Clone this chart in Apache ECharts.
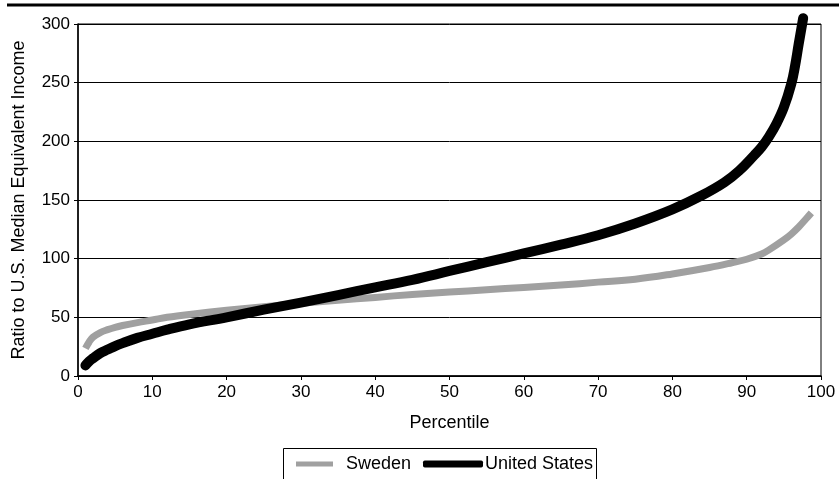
<!DOCTYPE html>
<html>
<head>
<meta charset="utf-8">
<script src="https://cdn.jsdelivr.net/npm/echarts@6/dist/echarts.min.js"></script>
<style>
html,body{margin:0;padding:0;background:#fff;}
#chart{width:839px;height:479px;}
</style>
</head>
<body>
<div id="chart"></div>
<script>
const usPct = [1, 1.5, 2, 3, 4, 5, 6, 8, 10, 12, 15, 20, 25, 30, 35, 40, 45, 50, 55, 60, 65, 70, 75, 80, 84, 87, 89, 91, 92, 93, 94, 95, 96, 96.5, 97, 97.6];
const usVal = [9, 12.5, 15, 19.5, 22.5, 25.5, 28, 32.5, 36, 39.5, 44, 50, 56.5, 62.5, 69, 75.5, 82, 89.5, 97, 104.5, 112, 120, 130, 142, 154, 165, 175, 188, 195, 204, 215, 229, 249, 264, 283, 305];
const swPct = [1, 1.5, 2, 3, 4, 5, 6, 8, 10, 12, 15, 20, 25, 30, 35, 40, 45, 50, 55, 60, 65, 70, 75, 80, 85, 88, 90, 92, 93, 95, 96, 97, 98, 98.7];
const swVal = [23.5, 29, 33, 37, 39.5, 41.5, 43, 45.5, 47.7, 50, 52.5, 56, 59, 62, 64.5, 67, 69.5, 71.5, 73.5, 75.5, 77.5, 80, 82.5, 87, 92.5, 96.5, 99.5, 104, 107.5, 116, 121, 127, 134, 139];
const xTicks = [0, 10, 20, 30, 40, 50, 60, 70, 80, 90, 100];
const yTicks = [0, 50, 100, 150, 200, 250, 300];
const seriesNames = ['Sweden', 'United States'];

const FONT = 'Liberation Sans, Arial, sans-serif';
const chart = echarts.init(document.getElementById('chart'), null, {renderer: 'canvas'});
const zip = (a, b) => a.map((v, i) => [v, b[i]]);

chart.setOption({
  animation: false,
  backgroundColor: '#fff',
  textStyle: {fontFamily: FONT, color: '#000'},
  grid: {left: 78, right: 18, top: 24, bottom: 103, show: true, borderColor: '#000', borderWidth: 1},
  xAxis: {
    type: 'value', min: xTicks[0], max: xTicks[xTicks.length - 1], interval: 10,
    name: 'Percentile', nameLocation: 'middle', nameGap: 38,
    nameTextStyle: {fontFamily: FONT, fontSize: 18, color: '#000'},
    axisLine: {show: true, lineStyle: {color: '#000', width: 1.5}},
    axisTick: {show: true, length: 4, lineStyle: {color: '#000'}},
    axisLabel: {fontFamily: FONT, fontSize: 17, color: '#000', margin: 8},
    splitLine: {show: false}
  },
  yAxis: {
    type: 'value', min: yTicks[0], max: yTicks[yTicks.length - 1], interval: 50,
    name: 'Ratio to U.S. Median Equivalent Income', nameLocation: 'middle', nameGap: 50,
    nameTextStyle: {fontFamily: FONT, fontSize: 18, color: '#000'},
    axisLine: {show: true, lineStyle: {color: '#000', width: 1.5}},
    axisTick: {show: true, length: 4, lineStyle: {color: '#000'}},
    axisLabel: {fontFamily: FONT, fontSize: 17, color: '#000', margin: 8},
    splitLine: {show: true, lineStyle: {color: '#000', width: 1}}
  },
  legend: [
    {data: [{name: seriesNames[0], icon: 'rect'}], left: 296, top: 455, padding: 0,
     itemWidth: 37, itemHeight: 5, itemGap: 0, textStyle: {fontFamily: FONT, fontSize: 18, color: '#000', padding: [0, 0, 0, 8]}},
    {data: [{name: seriesNames[1], icon: 'roundRect'}], left: 423, top: 455, padding: 0,
     itemWidth: 60, itemHeight: 7, itemGap: 0, textStyle: {fontFamily: FONT, fontSize: 18, color: '#000', padding: [0, 0, 0, -3]}}
  ],
  graphic: [
    {type: 'line', shape: {x1: 7, y1: 5, x2: 839, y2: 5}, style: {stroke: '#000', lineWidth: 3}},
    {type: 'rect', shape: {x: 283.5, y: 448.5, width: 313, height: 45}, style: {fill: 'none', stroke: '#000', lineWidth: 1}}
  ],
  series: [
    {name: seriesNames[0], type: 'line', data: zip(swPct, swVal), showSymbol: false, smooth: 0.4,
     color: '#a0a0a0', lineStyle: {color: '#a0a0a0', width: 7, cap: 'butt', join: 'round'}, clip: false, z: 2},
    {name: seriesNames[1], type: 'line', data: zip(usPct, usVal), showSymbol: false, smooth: 0.4,
     color: '#000', lineStyle: {color: '#000', width: 10, cap: 'round', join: 'round'}, clip: false, z: 3}
  ]
});
</script>
</body>
</html>
